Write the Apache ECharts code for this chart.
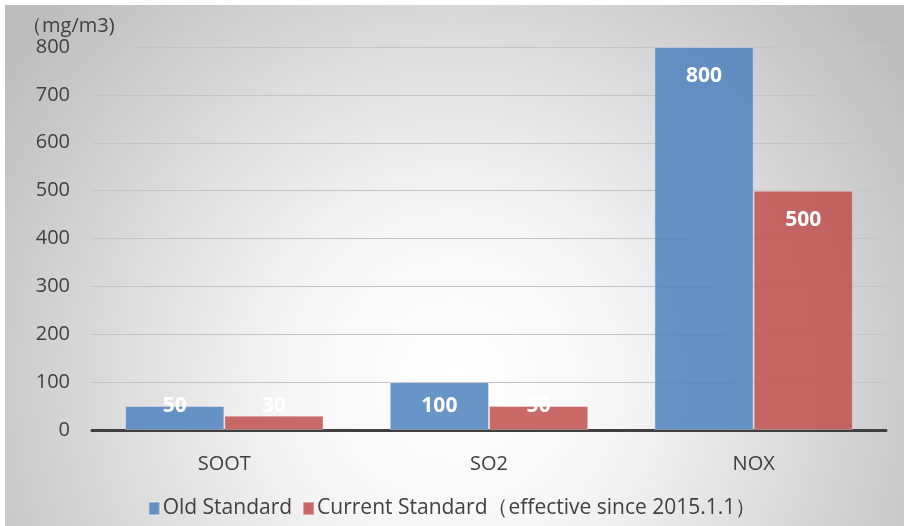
<!DOCTYPE html>
<html>
<head>
<meta charset="utf-8">
<script src="https://cdn.jsdelivr.net/npm/echarts@6/dist/echarts.min.js"></script>
<style>
  html, body { margin: 0; padding: 0; background: #fff; }
  #chart { width: 904px; height: 526px; }
</style>
</head>
<body>
<div id="chart"></div>
<script>
// Emission limits for coal-fired boilers (mg/m3)
const categories = ['SOOT', 'SO2', 'NOX'];
const oldStandard = [50, 100, 800];
const currentStandard = [30, 50, 500];
const seriesNames = ['Old Standard', 'Current Standard（effective since 2015.1.1）'];
const unitLabel = '（mg/m3)';
const yMin = 0, yMax = 800, yStep = 100;

const FONT = '"Open Sans", "Noto Sans", sans-serif';
const chart = echarts.init(document.getElementById('chart'), null, { renderer: 'canvas' });

// Keep value labels near the top of each bar, but never lower than just above the baseline
function placeLabel(params) {
  const r = params.rect;
  const cy = Math.min(r.y + 29, r.y + r.height - 24);
  return { x: r.x + r.width / 2, y: cy };
}

const labelStyle = {
  show: true,
  position: 'inside',
  color: '#ffffff',
  fontFamily: FONT,
  fontWeight: 'bold',
  fontSize: 21,
  align: 'center',
  verticalAlign: 'middle'
};

chart.setOption({
  animation: false,
  backgroundColor: '#ffffff',
  graphic: {
    elements: [{
      type: 'rect',
      z: -100,
      silent: true,
      shape: { x: 5, y: 5, width: 899, height: 521 },
      style: {
        fill: {
          type: 'radial', x: 0.5, y: 0.72, r: 1.05,
          colorStops: [
            { offset: 0, color: '#ffffff' },
            { offset: 0.3, color: '#f6f6f6' },
            { offset: 1, color: '#bdbdbd' }
          ]
        }
      }
    }]
  },
  title: {
    text: unitLabel,
    left: 17,
    top: 11,
    textStyle: { fontFamily: FONT, fontSize: 20, fontWeight: 'normal', color: '#404040' }
  },
  legend: {
    bottom: 2,
    left: 'center',
    itemWidth: 11,
    itemHeight: 13,
    itemGap: 10,
    icon: 'rect',
    textStyle: { fontFamily: FONT, fontSize: 21, color: '#404040', padding: [0, 0, 0, -2] },
    data: seriesNames
  },
  grid: { left: 92, right: 18, top: 47, bottom: 96, containLabel: false },
  xAxis: {
    type: 'category',
    data: categories,
    axisTick: { show: false },
    axisLine: { lineStyle: { color: '#3f3f3f', width: 3 } },
    axisLabel: { fontFamily: FONT, fontSize: 20, color: '#404040', margin: 24 }
  },
  yAxis: {
    type: 'value',
    min: yMin,
    max: yMax,
    interval: yStep,
    axisLine: { show: false },
    axisTick: { show: false },
    axisLabel: { fontFamily: FONT, fontSize: 20, color: '#404040', margin: 22 },
    splitLine: { lineStyle: { color: '#c4c4c4', width: 1 } }
  },
  series: [
    {
      name: seriesNames[0],
      type: 'bar',
      data: oldStandard,
      barGap: '0%',
      barCategoryGap: '25%',
      itemStyle: { color: 'rgba(79,129,189,0.85)', borderColor: 'rgba(255,255,255,0.35)', borderWidth: 1 },
      label: labelStyle,
      labelLayout: placeLabel
    },
    {
      name: seriesNames[1],
      type: 'bar',
      data: currentStandard,
      itemStyle: { color: 'rgba(192,80,77,0.85)', borderColor: 'rgba(255,255,255,0.35)', borderWidth: 1 },
      label: labelStyle,
      labelLayout: placeLabel
    }
  ]
});
</script>
</body>
</html>
